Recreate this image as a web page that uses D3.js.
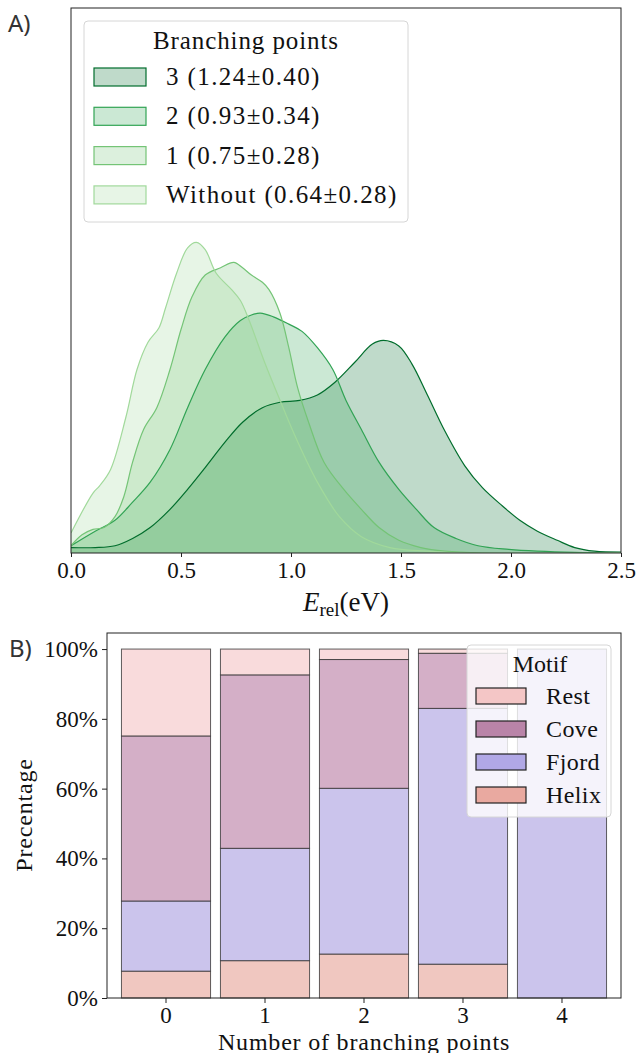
<!DOCTYPE html>
<html>
<head>
<meta charset="utf-8">
<script src="https://cdn.jsdelivr.net/npm/d3@7"></script>
<style>
  body { margin: 0; background: #fff; }
</style>
</head>
<body>
<div id="chart"></div>
<script>
// ---- panel A: KDE of relative energy, [E (eV), density]
const kdeWithout = [[0.00,0.11],[0.10,0.33],[0.13,0.37],[0.18,0.46],[0.25,0.75],[0.30,1.01],[0.35,1.16],
  [0.40,1.24],[0.43,1.35],[0.48,1.54],[0.53,1.68],[0.57,1.71],[0.61,1.67],[0.66,1.54],[0.73,1.45],
  [0.77,1.39],[0.81,1.28],[0.88,1.05],[0.93,0.90],[1.02,0.64],[1.12,0.39],[1.22,0.20],[1.32,0.09],
  [1.45,0.03],[1.62,0.01],[1.79,0.00],[2.5,0]];
const kdeOne = [[0.00,0.04],[0.05,0.10],[0.10,0.13],[0.15,0.14],[0.20,0.20],[0.24,0.31],[0.28,0.50],
  [0.33,0.68],[0.39,0.80],[0.45,1.01],[0.50,1.23],[0.55,1.41],[0.61,1.53],[0.68,1.57],[0.74,1.60],
  [0.78,1.57],[0.82,1.53],[0.87,1.49],[0.90,1.45],[0.95,1.32],[0.99,1.13],[1.03,0.91],[1.08,0.72],
  [1.15,0.50],[1.24,0.35],[1.32,0.24],[1.40,0.14],[1.49,0.07],[1.59,0.03],[1.70,0.01],[1.87,0.00],[2.5,0]];
const kdeTwo = [[0.00,0.04],[0.11,0.12],[0.20,0.18],[0.28,0.28],[0.36,0.39],[0.45,0.57],[0.53,0.80],
  [0.61,1.01],[0.70,1.19],[0.77,1.28],[0.82,1.31],[0.86,1.32],[0.92,1.30],[0.99,1.26],[1.05,1.22],
  [1.12,1.13],[1.19,1.01],[1.25,0.84],[1.32,0.68],[1.40,0.50],[1.49,0.35],[1.57,0.24],[1.65,0.14],
  [1.75,0.08],[1.85,0.04],[1.99,0.02],[2.12,0.01],[2.29,0.003],[2.50,0.00]];
const kdeThree = [[0.00,0.03],[0.11,0.03],[0.20,0.04],[0.28,0.08],[0.36,0.14],[0.45,0.24],[0.53,0.35],
  [0.61,0.47],[0.70,0.61],[0.78,0.72],[0.87,0.80],[0.95,0.83],[1.04,0.84],[1.12,0.87],[1.20,0.94],
  [1.29,1.05],[1.37,1.15],[1.42,1.17],[1.49,1.14],[1.55,1.04],[1.62,0.87],[1.70,0.67],[1.79,0.48],
  [1.87,0.36],[1.96,0.26],[2.04,0.18],[2.12,0.12],[2.21,0.07],[2.29,0.03],[2.38,0.01],[2.50,0.005]];
const kdeLabels = ['3 (1.24\u00b10.40)', '2 (0.93\u00b10.34)', '1 (0.75\u00b10.28)', 'Without (0.64\u00b10.28)'];
const kdeColors = ['#006d2c', '#31a354', '#74c476', '#a1d99b'];
const energyTicks = [0, 0.5, 1.0, 1.5, 2.0, 2.5];

// ---- panel B: motif share (%) per number of branching points
const branchCats = ['0', '1', '2', '3', '4'];
const helixPct = [7.7, 10.7, 12.6, 9.7, 0];
const fjordPct = [20.1, 32.2, 47.5, 73.3, 100];
const covePct = [47.3, 49.7, 36.9, 15.8, 0];
const restPct = [24.9, 7.4, 3.0, 1.2, 0];
const motifNames = ['Rest', 'Cove', 'Fjord', 'Helix'];
const motifBar = { Rest: '#f9dbdc', Cove: '#d4afc7', Fjord: '#cbc4ec', Helix: '#f0c7c0' };
const motifPatch = { Rest: '#f4c6c6', Cove: '#b984a8', Fjord: '#b1a8e6', Helix: '#e9a9a0' };
const pctTicks = [0, 20, 40, 60, 80, 100];

const SERIF = "'Liberation Serif', 'DejaVu Serif', serif";
const SANS = "'Noto Sans', 'DejaVu Sans', sans-serif";

const svg = d3.select('#chart').append('svg')
  .attr('width', 637).attr('height', 1053)
  .style('background', '#fff');

function label(g, x, y, txt, size, anchor) {
  return g.append('text').attr('x', x).attr('y', y)
    .attr('text-anchor', anchor || 'start')
    .style('font-family', SERIF).style('font-size', size + 'px')
    .style('fill', '#111').text(txt);
}

// =================== panel A ===================
const xA = d3.scaleLinear().domain([0, 2.5]).range([71, 621]);
const yA = d3.scaleLinear().domain([0, 3]).range([553, 8]);

svg.append('clipPath').attr('id', 'clipA')
  .append('rect').attr('x', 71).attr('y', 8).attr('width', 550).attr('height', 545);

const gA = svg.append('g').attr('clip-path', 'url(#clipA)');
const smooth = d3.curveCatmullRom.alpha(0.5);
const area = d3.area().curve(smooth)
  .x(d => xA(d[0])).y0(yA(0)).y1(d => yA(Math.max(0, d[1])));
const line = d3.line().curve(smooth)
  .x(d => xA(d[0])).y(d => yA(d[1]));

const kdeSeries = [kdeThree, kdeTwo, kdeOne, kdeWithout];
kdeSeries.forEach((s, i) => {
  gA.append('path').datum(s)
    .attr('d', area)
    .attr('fill', kdeColors[i]).attr('fill-opacity', 0.25);
});
kdeSeries.forEach((s, i) => {
  gA.append('path').datum(s)
    .attr('d', line)
    .attr('fill', 'none').attr('stroke', kdeColors[i]).attr('stroke-width', 1.2);
});

// x axis
const axA = svg.append('g').attr('transform', 'translate(0,553)')
  .call(d3.axisBottom(xA).tickValues(energyTicks).tickFormat(d3.format('.1f')).tickSize(4).tickPadding(5));
axA.select('.domain').remove();
axA.selectAll('line').attr('stroke', '#222');
axA.selectAll('text').style('font-family', SERIF).style('font-size', '23px').style('fill', '#111');

// frame
svg.append('rect').attr('x', 71).attr('y', 8).attr('width', 550).attr('height', 545)
  .attr('fill', 'none').attr('stroke', '#222').attr('stroke-width', 1);

// x label
const xl = svg.append('text').attr('x', 346).attr('y', 611).attr('text-anchor', 'middle')
  .style('font-family', SERIF).style('font-size', '27px').style('fill', '#111');
xl.append('tspan').style('font-style', 'italic').text('E');
xl.append('tspan').attr('dy', 5).style('font-size', '19px').text('rel');
xl.append('tspan').attr('dy', -5).text('(eV)');

// legend A
const lgA = svg.append('g');
lgA.append('rect').attr('x', 84).attr('y', 21).attr('width', 324).attr('height', 201).attr('rx', 4)
  .attr('fill', '#fff').attr('fill-opacity', 0.8).attr('stroke', '#d6d6d6');
label(lgA, 246, 49, 'Branching points', 25, 'middle').style('letter-spacing', '0.9px');
kdeLabels.forEach((lab, i) => {
  const cy = 77 + i * 39.3;
  lgA.append('rect').attr('x', 94).attr('y', cy - 9).attr('width', 52).attr('height', 18)
    .attr('fill', kdeColors[i]).attr('fill-opacity', 0.25)
    .attr('stroke', kdeColors[i]).attr('stroke-width', 1.2);
  label(lgA, 166, cy + 8, lab, 25).style('letter-spacing', '1.4px');
});

svg.append('text').attr('x', 8).attr('y', 32)
  .style('font-family', SANS).style('font-size', '24px').style('fill', '#333').text('A)');

// =================== panel B ===================
const xB = d3.scaleBand().domain(branchCats).range([107, 621])
  .paddingInner(0.1).paddingOuter(0.146);
const yB = d3.scaleLinear().domain([0, 104.6]).range([998, 633]);

const rows = branchCats.map((c, i) => ({
  cat: c, Helix: helixPct[i], Fjord: fjordPct[i], Cove: covePct[i], Rest: restPct[i]
}));
const stacked = d3.stack().keys(['Helix', 'Fjord', 'Cove', 'Rest'])(rows);

const gB = svg.append('g');
stacked.forEach(layer => {
  gB.selectAll(null).data(layer).join('rect')
    .attr('x', d => xB(d.data.cat))
    .attr('width', xB.bandwidth())
    .attr('y', d => yB(d[1]))
    .attr('height', d => yB(d[0]) - yB(d[1]))
    .attr('fill', motifBar[layer.key])
    .attr('stroke', '#2b2b2b').attr('stroke-opacity', 0.75).attr('stroke-width', 1);
});

const axBx = svg.append('g').attr('transform', 'translate(0,998)')
  .call(d3.axisBottom(xB).tickSize(5).tickPadding(4));
axBx.select('.domain').remove();
axBx.selectAll('line').attr('stroke', '#222');
axBx.selectAll('text').style('font-family', SERIF).style('font-size', '23px').style('fill', '#111');

const axBy = svg.append('g').attr('transform', 'translate(107,0)')
  .call(d3.axisLeft(yB).tickValues(pctTicks).tickFormat(d => d + '%').tickSize(5).tickPadding(4));
axBy.select('.domain').remove();
axBy.selectAll('line').attr('stroke', '#222');
axBy.selectAll('text').style('font-family', SERIF).style('font-size', '23px').style('fill', '#111');

svg.append('rect').attr('x', 107).attr('y', 633).attr('width', 514).attr('height', 365)
  .attr('fill', 'none').attr('stroke', '#222').attr('stroke-width', 1);

// legend B
const lgB = svg.append('g');
lgB.append('rect').attr('x', 467).attr('y', 645).attr('width', 144).attr('height', 172).attr('rx', 4)
  .attr('fill', '#fff').attr('fill-opacity', 0.8).attr('stroke', '#d6d6d6');
label(lgB, 540, 672, 'Motif', 24, 'middle');
motifNames.forEach((m, i) => {
  const cy = 696 + i * 33;
  lgB.append('rect').attr('x', 476).attr('y', cy - 8).attr('width', 50).attr('height', 16)
    .attr('fill', motifPatch[m]).attr('stroke', '#222').attr('stroke-width', 1.2);
  label(lgB, 546, cy + 8, m, 24).style('letter-spacing', '0.4px');
});

svg.append('text').attr('transform', 'translate(32,815) rotate(-90)')
  .attr('text-anchor', 'middle')
  .style('font-family', SERIF).style('font-size', '24px').style('letter-spacing', '0.8px')
  .style('fill', '#111').text('Precentage');
label(svg, 364, 1050, 'Number of branching points', 24, 'middle').style('letter-spacing', '0.8px');

svg.append('text').attr('x', 9).attr('y', 657)
  .style('font-family', SANS).style('font-size', '24px').style('fill', '#333').text('B)');
</script>
</body>
</html>
